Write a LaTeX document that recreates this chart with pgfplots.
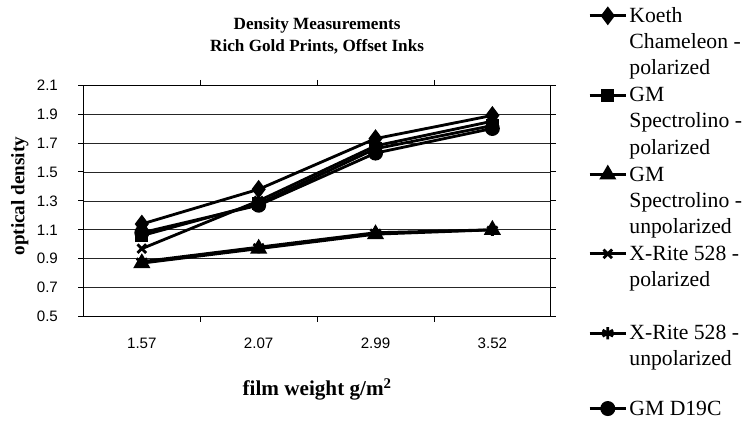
\documentclass[border=0pt]{standalone}
\usepackage{fontspec}
\setmainfont{Liberation Serif}
\newfontfamily\sansf{Liberation Sans}
\usepackage{pgfplots}
\pgfplotsset{compat=1.18}
\begin{document}
\begin{tikzpicture}
\begin{axis}[
  scale only axis,
  width=462bp, height=229bp,
  xmin=0, xmax=4, ymin=0.5, ymax=2.1,
  xtick={1,2,3}, xticklabels={},
  extra x ticks={0.5,1.5,2.5,3.5},
  extra x tick labels={1.57,2.07,2.99,3.52},
  extra x tick style={major tick length=0pt, grid=none},
  ytick={0.5,0.7,0.9,1.1,1.3,1.5,1.7,1.9,2.1},
  yticklabels={0.5,0.7,0.9,1.1,1.3,1.5,1.7,1.9,2.1},
  tick align=outside, major tick length=5bp,
  tick style={black, line width=0.8bp},
  ymajorgrids, grid style={black!85, line width=0.7bp},
  axis line style={black, line width=0.8bp},
  ticklabel style={font=\sansf\fontsize{15}{18}\selectfont},
  xticklabel style={inner sep=0pt, yshift=-21bp},
  yticklabel style={inner sep=0pt, xshift=-20bp},
  title={Density Measurements\\Rich Gold Prints, Offset Inks},
  title style={at={(axis description cs:0.5,1)}, anchor=south, yshift=24bp, inner sep=0pt, align=center, font=\fontsize{17}{22.5}\selectfont\bfseries},
  xlabel={film weight g/m\textsuperscript{2}},
  xlabel style={at={(axis description cs:0.5,-0.314)}, anchor=center, inner sep=0pt, font=\fontsize{21}{22}\selectfont\bfseries},
  ylabel={optical density},
  ylabel style={at={(axis description cs:-0.136,0.52)}, anchor=center, inner xsep=0pt, inner ysep=11bp, font=\fontsize{19}{22}\selectfont\bfseries},
  legend style={at={(axis description cs:1.080,1.367)}, anchor=north west, draw=none, fill=none, inner xsep=0pt, inner ysep=4bp, outer sep=0pt, row sep=58.8bp, column sep=2bp, cells={anchor=base west}, nodes={inner xsep=0pt, inner ysep=0pt}, font=\fontsize{21.5}{26}\selectfont},
  legend image code/.code={\draw[mark repeat=2,mark phase=2,#1] plot coordinates {(0bp,6.5bp) (18bp,6.5bp) (36bp,6.5bp)};},
  every axis plot/.append style={black, line width=2.8bp, mark options={solid, fill=black}},
]
\addplot[mark=diamond*, mark size=7bp] coordinates {(0.5,1.14) (1.5,1.38) (2.5,1.73) (3.5,1.89)};
\addlegendentry{\begin{tabular}[t]{@{}l@{}}Koeth\\Chameleon -\\polarized\end{tabular}}
\addplot[mark=square*, mark size=5bp] coordinates {(0.5,1.06) (1.5,1.28) (2.5,1.66) (3.5,1.82)};
\addlegendentry{\begin{tabular}[t]{@{}l@{}}GM\\Spectrolino -\\polarized\end{tabular}}
\addplot[mark=triangle*, mark size=7bp] coordinates {(0.5,0.87) (1.5,0.97) (2.5,1.07) (3.5,1.10)};
\addlegendentry{\begin{tabular}[t]{@{}l@{}}GM\\Spectrolino -\\unpolarized\end{tabular}}
\addplot[mark=x, mark size=6bp] coordinates {(0.5,0.97) (1.5,1.30) (2.5,1.68) (3.5,1.85)};
\addlegendentry{\begin{tabular}[t]{@{}l@{}}X-Rite 528 -\\polarized\\ \end{tabular}}
\addplot[mark=asterisk, mark size=6bp] coordinates {(0.5,0.88) (1.5,0.98) (2.5,1.08) (3.5,1.10)};
\addlegendentry{\begin{tabular}[t]{@{}l@{}}X-Rite 528 -\\unpolarized\\ \end{tabular}}
\addplot[mark=*, mark size=6bp] coordinates {(0.5,1.08) (1.5,1.27) (2.5,1.63) (3.5,1.80)};
\addlegendentry{GM D19C}
\end{axis}
\end{tikzpicture}
\end{document}
